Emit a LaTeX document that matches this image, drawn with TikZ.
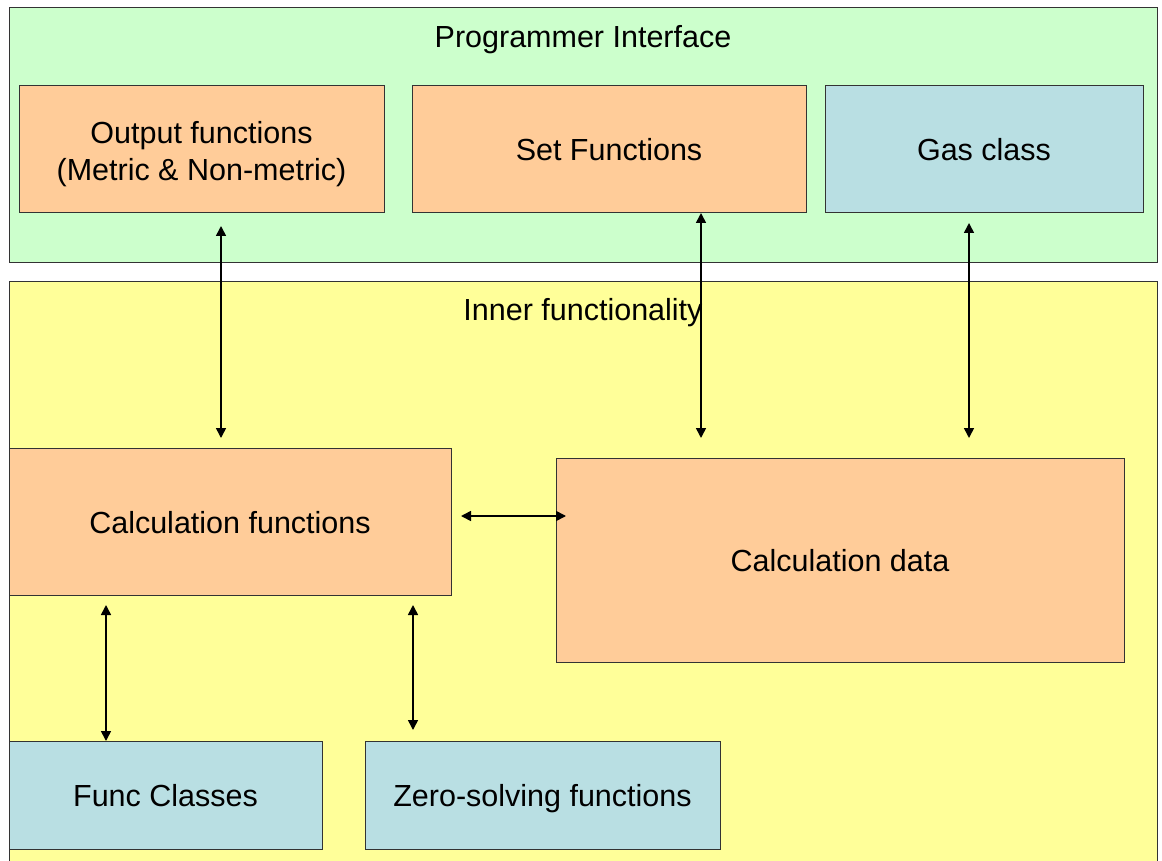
\documentclass[tikz,border=0pt]{standalone}
\usepackage{fontspec}
\setmainfont{Liberation Sans}
\usepackage[HTML]{xcolor}
\usetikzlibrary{positioning, arrows.meta, calc}

\definecolor{panelgreen}{HTML}{CCFFCC}
\definecolor{panelyellow}{HTML}{FFFF99}
\definecolor{boxorange}{HTML}{FFCC99}
\definecolor{boxblue}{HTML}{B9DFE3}

\tikzset{
  panel/.style={draw=black!80, line width=1pt},
  ttl/.style={font=\fontsize{30.5}{37}\selectfont, text height=29pt, text depth=6pt},
  blk/.style={draw=black!80, line width=1pt, inner sep=0pt, outer sep=0pt,
    align=center, font=\fontsize{30.5}{37}\selectfont},
  one/.style={blk, text height=29pt, text depth=6pt},
  dbl/.style={line width=1.6pt, {Triangle[length=10pt,width=10pt]}-{Triangle[length=10pt,width=10pt]}},
}

\begin{document}
\begin{tikzpicture}[x=1pt, y=-1pt]
\clip (0,0) rectangle (1162,861);
\fill[white] (0,0) rectangle (1162,861);

% panels
\draw[panel, fill=panelgreen] (9,8) rectangle (1157,262);
\draw[panel, fill=panelyellow] (9,281) rectangle (1157,880);
\node[ttl] (progif) at (583,36) {Programmer Interface};
\node[ttl] (inner) at (583,309) {Inner functionality};

% top row
\node[blk, fill=boxorange, minimum width=365, minimum height=127, text height=68.8pt, text depth=6pt] (outfn) at (201.5,149.5)
  {Output functions\\(Metric \& Non-metric)};
\node[one, fill=boxorange, minimum width=394, minimum height=127] (setfn) at (609,149.5) {Set Functions};
\node[one, fill=boxblue, minimum width=318, minimum height=127] (gas) at (984,149.5) {Gas class};

% inner boxes
\node[one, fill=boxorange, minimum width=442, minimum height=147] (calcfn) at (230,521.5) {Calculation functions};
\node[one, fill=boxorange, minimum width=568, minimum height=204] (calcdata) at (840,560) {Calculation data};
\node[one, fill=boxblue, minimum width=313, minimum height=108] (funccl) at (165.5,795) {Func Classes};
\node[one, fill=boxblue, minimum width=355, minimum height=108] (zerofn) at (542.5,795) {Zero-solving functions};

% arrow ends
\coordinate (a1t) at (221,226);
\coordinate (a1b) at (221,438);
\coordinate (a2t) at (701,213);
\coordinate (a2b) at (701,438);
\coordinate (a3t) at (969,223);
\coordinate (a3b) at (969,438);
\coordinate (a4l) at (461,516);
\coordinate (a4r) at (566,516);
\coordinate (a5t) at (106,605);
\coordinate (a6t) at (413,605);
\coordinate (a6b) at (413,730);

\draw[dbl] (a1t) -- (a1b);
\draw[dbl] (a2t) -- (a2b);
\draw[dbl] (a3t) -- (a3b);
\draw[dbl] (a4l) -- (a4r);
\draw[dbl] (a5t) -- (a5t |- funccl.north);
\draw[dbl] (a6t) -- (a6b);
\end{tikzpicture}
\end{document}
